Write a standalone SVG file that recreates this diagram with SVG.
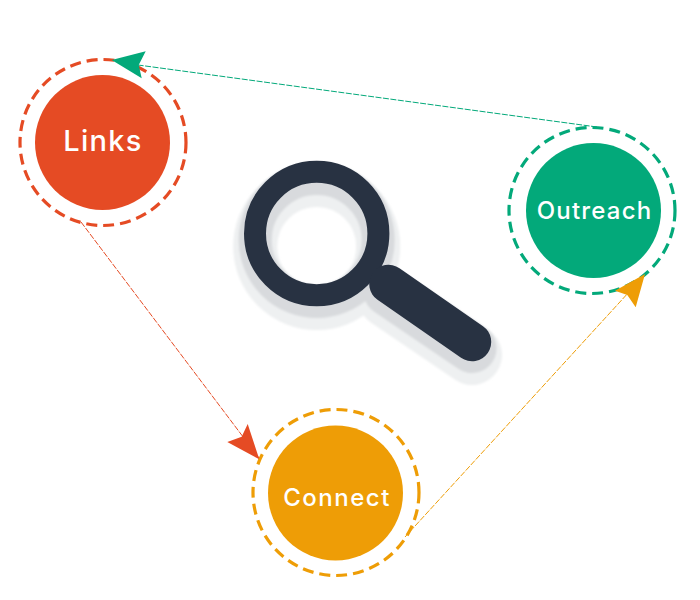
<svg xmlns="http://www.w3.org/2000/svg" width="700" height="600" viewBox="0 0 700 600">
<defs><filter id="soft" filterUnits="userSpaceOnUse" x="200" y="130" width="330" height="280"><feGaussianBlur stdDeviation="0.8"/></filter></defs>
<style>
.ring{fill:none;stroke-width:3.2;stroke-dasharray:11 6}
.link{fill:none;stroke-width:1;stroke-dasharray:6 1.5}
.label{fill:#fff;font-family:"Inter","Liberation Sans",sans-serif;font-weight:500;text-anchor:middle}
.red{stroke:#e54b24}.green{stroke:#03a97a}.orange{stroke:#ee9d06}
.mg{fill:none;stroke-linecap:round}
</style>
<rect width="700" height="600" fill="#fff"/>
<g id="magnifier">
<g class="mg" stroke="#eef0f1" transform="translate(0 13)" filter="url(#soft)"><circle cx="316.7" cy="233.5" r="61.5" stroke-width="44"/><path d="M388 285L472 342" stroke-width="60"/></g>
<g class="mg" stroke="#d8dadd" transform="translate(0 6.5)" filter="url(#soft)"><circle cx="316.7" cy="233.5" r="61.5" stroke-width="33"/><path d="M388 285L472 342" stroke-width="49"/></g>
<g class="mg" stroke="#283242"><circle cx="316.7" cy="233.5" r="61.7" stroke-width="22"/><path d="M388.500 284L472 342" stroke-width="38.500"/></g>
</g>
<g id="node-links">
<circle class="ring red" cx="103" cy="142.500" r="83"/>
<circle cx="102.500" cy="142.500" r="67.500" fill="#e54b24"/>
<text class="label" x="103" y="151" font-size="29" letter-spacing="1.300">Links</text>
</g>
<g id="node-outreach">
<circle class="ring green" cx="592" cy="210.500" r="83"/>
<circle cx="593.500" cy="210.500" r="67.500" fill="#03a97a"/>
<text class="label" x="594.500" y="219" font-size="24" letter-spacing="1.200">Outreach</text>
</g>
<g id="node-connect">
<circle class="ring orange" cx="336" cy="492.500" r="83"/>
<circle cx="335.500" cy="493" r="67.500" fill="#ee9d06"/>
<text class="label" x="337" y="506" font-size="24" letter-spacing="1.500">Connect</text>
</g>
<g id="connectors">
<path class="link green" d="M597 127L138 65"/>
<polygon fill="#03a97a" points="111.700,60 145.700,51.300 138.700,65 141.700,78.300"/>
<path class="link red" d="M81 222L259 458"/>
<polygon fill="#e54b24" points="259.300,459.300 247.700,424 241.700,436.700 227.300,442"/>
<path class="link orange" d="M405 537L640 280"/>
<polygon fill="#ee9d06" points="645,274 615,290.700 627.300,295 635.700,307.300"/>
</g>
</svg>
